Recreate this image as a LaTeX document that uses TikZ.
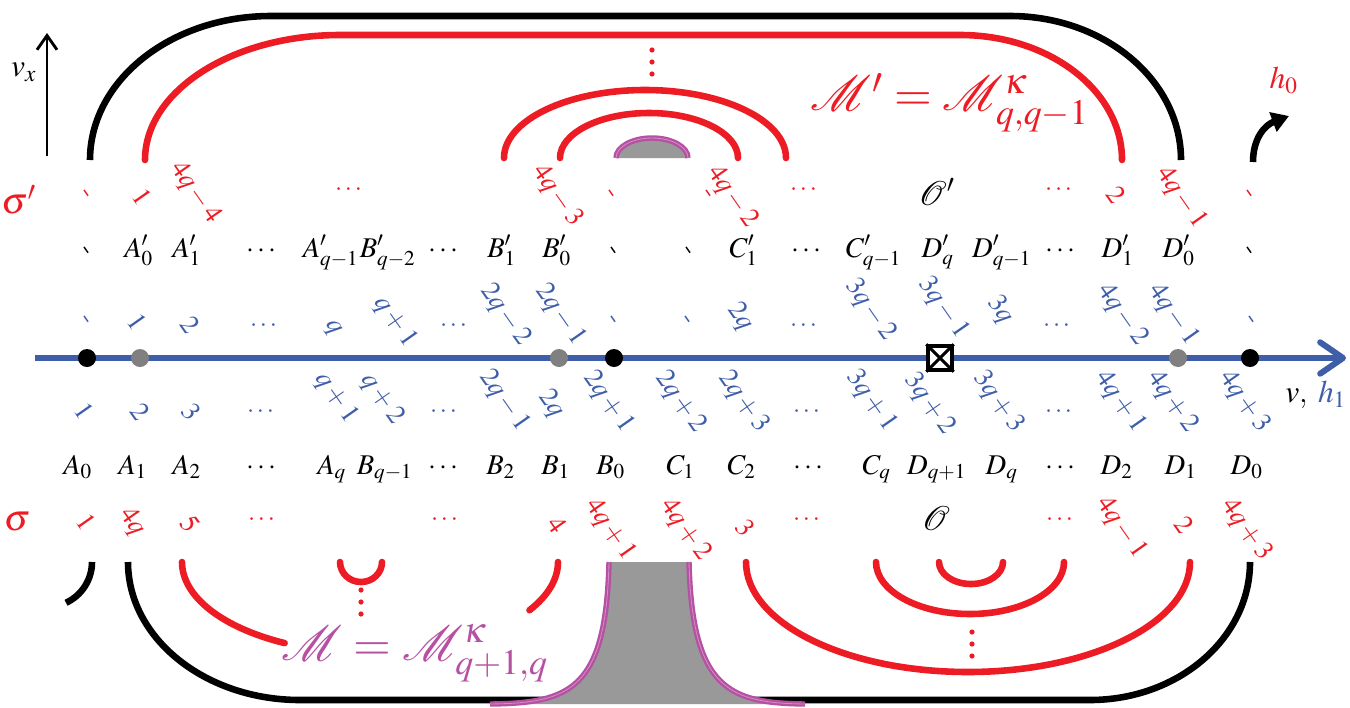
\documentclass[tikz,border=0pt]{standalone}
\usepackage{amsmath}
\usepackage{mathptmx}
\usepackage{mathrsfs}
\usepackage{xcolor}
\usepackage{tikz}
\usetikzlibrary{arrows.meta, positioning, calc}

\definecolor{axisblue}{RGB}{63,94,170}
\definecolor{curvered}{RGB}{237,28,36}
\definecolor{wallpink}{RGB}{182,80,162}
\definecolor{fillgray}{RGB}{153,153,153}
\definecolor{dotgray}{RGB}{128,128,128}

\begin{document}
\begin{tikzpicture}[x=0.35pt,y=-0.35pt,
  curve/.style={line width=2.3pt,line cap=round},
  wall/.style={wallpink,double=wallpink!65!white,double distance=0.3pt,line width=0.8pt},
  lbl/.style={font=\fontsize{10}{12}\selectfont,inner sep=0pt},
  num/.style={font=\fontsize{9.5}{11}\selectfont,inner sep=0pt,rotate=-55},
  dotsl/.style={font=\fontsize{9}{10}\selectfont,inner sep=0pt},
  bignote/.style={font=\fontsize{17}{20}\selectfont,inner sep=0pt},
  bdot/.style={circle,fill=black,inner sep=0pt,minimum size=6.3pt},
  gdot/.style={circle,fill=dotgray,inner sep=0pt,minimum size=6.3pt},
  xbox/.style={draw=black,fill=white,line width=1.3pt,inner sep=0pt,minimum size=8.3pt}]
  \useasboundingbox (0,0) rectangle (1350,707);

  % Outer loops above the axis
  \draw[curve,line cap=butt] (90,160) arc (180:270:181 and 144) -- (1010,16) arc (270:360:171 and 144);
  \draw[curve,curvered] (145,160) arc (180:270:195 and 125) -- (960,35) arc (270:360:162 and 125);

  % Nested arcs above
  \draw[curve,curvered] (504,158) arc (180:360:141 and 68);
  \draw[curve,curvered] (560,158) arc (180:360:89 and 45);
  \fill[fillgray] (616,158) arc (180:360:36 and 20) -- cycle;
  \draw[wall] (616,158) arc (180:360:36 and 20);
  \foreach \y in {50,62,74}
    \fill[curvered] (652,\y) circle (2.6);

  % Black arcs below the axis
  \draw[curve,line cap=butt] (92,562) arc (0:65:45);
  \draw[curve,line cap=butt] (128,562) arc (180:90:172 and 138) -- (1090,700) arc (90:0:160 and 138);

  % Red arcs below, left group
  \draw[curve,curvered] (182,562) arc (180:117:188 and 91);
  \draw[curve,curvered] (558,562) arc (0:32:188 and 91);
  \draw[curve,curvered] (340,562) arc (180:0:21 and 20);
  \foreach \y in {590,602,614}
    \fill[curvered] (361,\y) circle (2.6);

  % Red arcs below, right group
  \draw[curve,curvered] (746,562) arc (180:0:222 and 110);
  \draw[curve,curvered] (876,562) arc (180:0:94 and 52);
  \draw[curve,curvered] (939,562) arc (180:0:32 and 22);
  \foreach \y in {632,644,656}
    \fill[curvered] (972,\y) circle (2.6);

  % Gray throat
  \fill[fillgray] (609,562) -- (689,562) .. controls (692,690) and (730,703) .. (805,704)
    -- (490,704) .. controls (570,703) and (606,690) .. cycle;
  \draw[wall] (609,562) .. controls (606,690) and (570,703) .. (490,704);
  \draw[wall] (689,562) .. controls (692,690) and (730,703) .. (805,704);

  % Axis
  \coordinate (ax0) at (35,358);
  \coordinate (ax1) at (1346,358);
  \draw[axisblue,line width=2.1pt,-{Straight Barb[length=8pt,width=11pt,round]}] (ax0) -- (ax1);
  \node[bdot] (p1) at (87,358) {};
  \node[gdot] (p2) at (140,358) {};
  \node[gdot] (p3) at (559,358) {};
  \node[bdot] (p4) at (614,358) {};
  \node[xbox] (ox) at (940,358) {};
  \draw[line width=1.1pt] (ox.north west) -- (ox.south east) (ox.north east) -- (ox.south west);
  \node[gdot] (p5) at (1178,358) {};
  \node[bdot] (p6) at (1250,358) {};
  \node[lbl,font=\fontsize{11}{13}\selectfont] (vh) at (1316,395) {$v$, {\color{axisblue}$h_1$}};

  % v_x and h_0 arrows
  \coordinate (vx0) at (47,156);
  \coordinate (vx1) at (47,33);
  \draw[line width=1pt,-{Straight Barb[length=5pt,width=7pt]}] (vx0) -- (vx1);
  \node[lbl,font=\fontsize{11}{13}\selectfont] (vx) at (24,72) {$v_x$};
  \coordinate (h0a) at (1253,162);
  \coordinate (h0b) at (1289,116);
  \draw[line width=2.3pt,-{Triangle[length=6pt,width=7pt]}] (h0a) .. controls (1253,138) and (1265,125) .. (h0b);
  \node[lbl,font=\fontsize{11}{13}\selectfont,text=curvered] (h0) at (1284,80) {$h_0$};

  % Big labels
  \node[bignote,text=curvered] (Mp) at (950,103) {$\mathscr{M}'=\mathscr{M}^{\kappa}_{q,q-1}$};
  \node[bignote,text=wallpink] (M) at (415,653) {$\mathscr{M}=\mathscr{M}^{\kappa}_{q+1,q}$};
  \node[font=\fontsize{13}{15}\selectfont,text=curvered,inner sep=0pt] (sp) at (19,200) {$\sigma'$};
  \node[font=\fontsize{13}{15}\selectfont,text=curvered,inner sep=0pt] (s) at (17,522) {$\sigma$};
  \node[font=\fontsize{12}{14}\selectfont,inner sep=0pt] (Op) at (937,192) {$\mathscr{O}'$};
  \node[font=\fontsize{12}{14}\selectfont,inner sep=0pt] (O) at (936,518) {$\mathscr{O}$};

  % Primed row
  \foreach \x/\t [count=\i] in {139/{A'_0},187/{A'_1},263/\cdots,331/{A'_{q-1}},388/{B'_{q-2}},445/\cdots,
      502/{B'_1},557/{B'_0},744/{C'_1},808/\cdots,874/{C'_{q-1}},938/{D'_q},1002/{D'_{q-1}},1062/\cdots,
      1118/{D'_1},1179/{D'_0}}
    \node[lbl,anchor=base] (pr\i) at (\x,257) {$\t$};
  \foreach \x [count=\i] in {85,612,687,1248}
    \node[num] (prt\i) at (\x,252) {-};

  % Unprimed row
  \foreach \x/\t [count=\i] in {78/{A_0},133/{A_1},187/{A_2},263/\cdots,332/{A_q},385/{B_{q-1}},445/\cdots,
      501/{B_2},556/{B_1},611/{B_0},681/{C_1},742/{C_2},810/\cdots,877/{C_q},937/{D_{q+1}},1002/{D_q},
      1062/\cdots,1117/{D_2},1181/{D_1},1247/{D_0}}
    \node[lbl,anchor=base] (un\i) at (\x,474) {$\t$};

  % Blue numbers above the axis
  \foreach \x/\y/\t [count=\i] in {137/322/1,190/325/2,332/328/q,395/322/q+1,505/315/2q-2,560/315/2q-1,
      740/317/2q,870/310/3q-2,943/308/3q-1,1000/310/3q,1122/315/4q-2,1173/315/4q-1}
    \node[num,text=axisblue] (bu\i) at (\x,\y) {$\t$};
  \foreach \x [count=\i] in {85,612,686,1250}
    \node[num,text=axisblue] (but\i) at (\x,321) {-};
  \foreach \x [count=\i] in {265,455,805,1058}
    \node[dotsl,text=axisblue] (bud\i) at (\x,326) {$\cdots$};

  % Blue numbers below the axis
  \foreach \x/\y/\t [count=\i] in {84/411/1,140/412/2,191/412/3,336/398/q+1,382/399/q+2,504/401/2q-1,
      551/404/2q,608/402/2q+1,680/402/2q+2,743/402/2q+3,871/401/3q+1,929/404/3q+2,998/402/3q+3,
      1120/402/4q+1,1172/402/4q+2,1244/402/4q+3}
    \node[num,text=axisblue] (bl\i) at (\x,\y) {$\t$};
  \foreach \x [count=\i] in {262,445,808,1060}
    \node[dotsl,text=axisblue] (bld\i) at (\x,412) {$\cdots$};

  % Red sigma' row
  \foreach \x/\y/\t [count=\i] in {142/197/1,195/193/4q-4,557/196/4q-3,732/197/4q-2,1116/195/2,1181/198/4q-1}
    \node[num,text=curvered] (ru\i) at (\x,\y) {$\t$};
  \foreach \x [count=\i] in {85,610,707,1248}
    \node[num,text=curvered] (rut\i) at (\x,195) {-};
  \foreach \x [count=\i] in {350,805,1060}
    \node[dotsl,text=curvered] (rud\i) at (\x,190) {$\cdots$};

  % Red sigma row
  \foreach \x/\y/\t [count=\i] in {86/522/1,132/522/4q,190/524/5,557/525/4,610/530/4q+1,685/530/4q+2,
      745/528/3,1121/528/4q-1,1184/525/2,1246/530/4q+3}
    \node[num,text=curvered] (rl\i) at (\x,\y) {$\t$};
  \foreach \x [count=\i] in {263,446,808,1061}
    \node[dotsl,text=curvered] (rld\i) at (\x,520) {$\cdots$};
\end{tikzpicture}
\end{document}
